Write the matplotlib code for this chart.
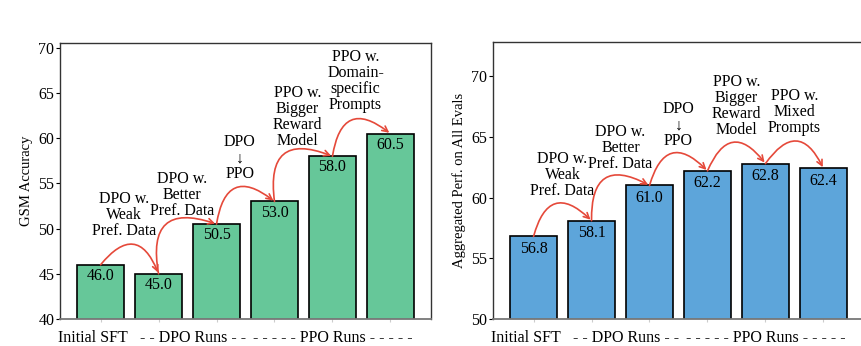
import matplotlib
matplotlib.use("Agg")
import matplotlib.pyplot as plt

plt.rcParams['font.family'] = ['Liberation Serif', 'DejaVu Serif']

# data
gsm_scores = [46.0, 45.0, 50.5, 53.0, 58.0, 60.5]
agg_scores = [56.8, 58.1, 61.0, 62.2, 62.8, 62.4]

gsm_steps = ["DPO w.\nWeak\nPref. Data", "DPO w.\nBetter\nPref. Data", "DPO\n\u2193\nPPO",
             "PPO w.\nBigger\nReward\nModel", "PPO w.\nDomain-\nspecific\nPrompts"]
agg_steps = ["DPO w.\nWeak\nPref. Data", "DPO w.\nBetter\nPref. Data", "DPO\n\u2193\nPPO",
             "PPO w.\nBigger\nReward\nModel", "PPO w.\nMixed\nPrompts"]

group_labels = ["Initial SFT", "- - DPO Runs - -", "- - - - - PPO Runs - - - - -"]
group_pos = [-0.13, 1.6, 4.0]

# layout of step labels (x offset from bar, bottom y in data units)
gsm_label_dx = 0.4
gsm_label_y = [48.9, 51.1, 55.1, 58.8, 62.8]
agg_label_dx = 0.5
agg_label_y = [59.9, 62.1, 64.0, 64.9, 65.1]

green = "#66c799"
blue = "#5da5da"
red = "#e5493a"


def draw(ax, scores, steps, color, ylim, ylabel, label_dx, label_y):
    x = range(len(scores))
    ax.bar(x, scores, width=0.8, color=color, edgecolor="black", linewidth=1.2, zorder=2)
    for i, v in enumerate(scores):
        ax.text(i, v - 0.35, "%.1f" % v, ha="center", va="top", fontsize=11.5, zorder=3)
    for i in range(len(scores) - 1):
        ax.annotate("", xy=(i + 1, scores[i + 1]), xytext=(i, scores[i]),
                    arrowprops=dict(arrowstyle="->", color=red, lw=1.2,
                                    connectionstyle="arc3,rad=-0.85",
                                    shrinkA=0, shrinkB=1), zorder=4)
        ax.text(i + label_dx, label_y[i], steps[i], ha="center", va="bottom",
                fontsize=11.5, linespacing=1.0, zorder=4)
    ax.set_xlim(-0.7, 5.7)
    ax.set_ylim(*ylim)
    ax.set_ylabel(ylabel, fontsize=10.5, labelpad=4)
    ax.set_xticks(list(x))
    ax.set_xticklabels([""] * len(scores))
    ax.tick_params(axis="x", length=2, color="#cccccc")
    ax.tick_params(axis="y", length=3, labelsize=11.5, pad=1)
    for lbl, px in zip(group_labels, group_pos):
        ax.text(px, -0.04, lbl, transform=ax.get_xaxis_transform(),
                ha="center", va="top", fontsize=11.5)
    for s in ax.spines.values():
        s.set_color("#333333")
        s.set_linewidth(1.0)
    ax.spines["bottom"].set_color("#777777")
    ax.spines["bottom"].set_linewidth(1.3)


fig = plt.figure(figsize=(8.62, 3.46), dpi=100)
ax1 = fig.add_axes([0.0696, 0.078, 0.4304, 0.797])
ax2 = fig.add_axes([0.5719, 0.078, 0.4304, 0.800])

draw(ax1, gsm_scores, gsm_steps, green, (40, 70.5), "GSM Accuracy", gsm_label_dx, gsm_label_y)
draw(ax2, agg_scores, agg_steps, blue, (50, 72.8), "Aggregated Perf. on All Evals", agg_label_dx, agg_label_y)
ax1.set_yticks([40, 45, 50, 55, 60, 65, 70])
ax2.set_yticks([50, 55, 60, 65, 70])

plt.savefig("out.png", dpi=100)
